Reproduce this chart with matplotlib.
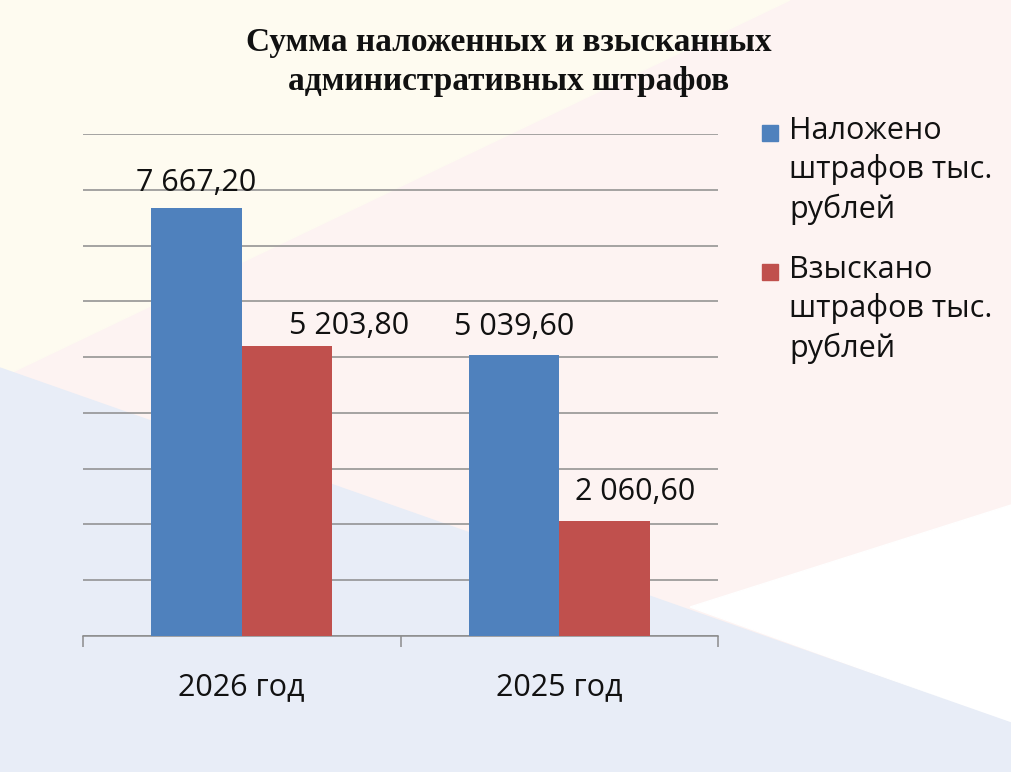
import numpy as np
import matplotlib
matplotlib.use("Agg")
from matplotlib import pyplot as plt
from matplotlib.patches import Polygon, Rectangle

# data
categories = ["2026 год", "2025 год"]
series_names = ["Наложено\nштрафов тыс.\nрублей", "Взыскано\nштрафов тыс.\nрублей"]
imposed = [7667.20, 5039.60]
collected = [5203.80, 2060.60]
value_labels = [["7 667,20", "5 039,60"], ["5 203,80", "2 060,60"]]
title = "Сумма наложенных и взысканных\nадминистративных штрафов"

colors = ["#4F81BD", "#C0504D"]
W, H = 1011, 772

plt.rcParams['font.family'] = ['Open Sans', 'DejaVu Sans']

fig = plt.figure(figsize=(W / 100, H / 100), dpi=100)

# background shapes (pixel coords)
bg = fig.add_axes([0, 0, 1, 1], zorder=0)
bg.set_xlim(0, W)
bg.set_ylim(H, 0)
bg.axis('off')
bg.add_patch(Rectangle((0, 0), W, H, color="#FDF3F2"))
bg.add_patch(Polygon([(0, 0), (790, 0), (0, 378)], color="#FEFBF0"))
bg.add_patch(Polygon([(690, 607), (W, 505), (W, 723)], color="#FFFFFF"))
bg.add_patch(Polygon([(0, 368), (W, 723), (W, H), (0, H)], color="#E8EDF7"))

# chart axes
ax = fig.add_axes([83 / W, (H - 636) / H, 635 / W, (636 - 134) / H], zorder=1)
ax.patch.set_alpha(0)
x = np.arange(len(categories))
w = 0.285
b1 = ax.bar(x - w / 2, imposed, w, color=colors[0], zorder=3)
b2 = ax.bar(x + w / 2, collected, w, color=colors[1], zorder=3)

ax.set_xlim(-0.5, 1.5)
ax.set_ylim(0, 9000)
ax.set_yticks(np.arange(0, 9001, 1000))
ax.yaxis.grid(True, color="#8C8C8C", linewidth=1.1)
ax.set_axisbelow(True)
ax.tick_params(axis='y', length=0, labelleft=False)
for s in ['top', 'right', 'left']:
    ax.spines[s].set_visible(False)
ax.spines['bottom'].set_color("#8C8C8C")
ax.spines['bottom'].set_linewidth(1.1)

ax.set_xticks(x)
ax.set_xticklabels(categories, fontsize=22, color="#111111")
ax.tick_params(axis='x', which='major', length=0, pad=26)
ax.set_xticks([-0.5, 0.5, 1.5], minor=True)
ax.tick_params(axis='x', which='minor', length=8, width=1.1, color="#8C8C8C", direction='out')

# value labels (offsets in points)
offsets = [[(0, 18), (0, 20)], [(45, 14), (22, 21)]]
for si, bars in enumerate([b1, b2]):
    for ci, bar in enumerate(bars):
        ax.annotate(value_labels[si][ci],
                    (bar.get_x() + bar.get_width() / 2, bar.get_height()),
                    xytext=offsets[si][ci], textcoords='offset points',
                    ha='center', va='center', fontsize=22, color="#111111")

# title
fig.text(509 / W, 1 - 62 / H, title, ha='center', va='center',
         fontsize=24, fontweight='bold', family=['Liberation Serif', 'DejaVu Serif'],
         linespacing=1.32, color="#111111")

# legend drawn by hand
leg_y = [133, 272]
for i, name in enumerate(series_names):
    fig.patches.append(Rectangle((762 / W, 1 - (leg_y[i] + 8) / H), 16 / W, 16 / H,
                                 transform=fig.transFigure, color=colors[i]))
    fig.text(789 / W, 1 - (leg_y[i] - 17) / H, name, ha='left', va='top',
             fontsize=22, linespacing=1.35, color="#111111")

fig.savefig("out.png", dpi=100)
